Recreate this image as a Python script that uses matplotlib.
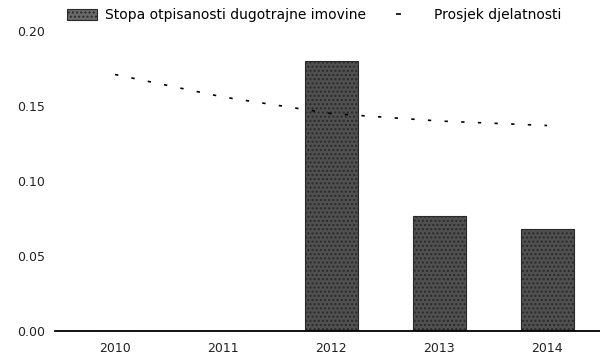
import numpy as np
import matplotlib
matplotlib.use('Agg')
import matplotlib.pyplot as plt
from matplotlib.patches import Patch
from matplotlib.lines import Line2D

plt.rcParams['font.family'] = ['DejaVu Sans']

years = ['2010', '2011', '2012', '2013', '2014']
otpisanost = [0.0, 0.0, 0.180, 0.077, 0.068]
prosjek = [0.171, 0.156, 0.145, 0.140, 0.137]
yticks = [0.00, 0.05, 0.10, 0.15, 0.20]

bar_label = 'Stopa otpisanosti dugotrajne imovine'
line_label = 'Prosjek djelatnosti'

fig = plt.figure(figsize=(6.0, 3.59), dpi=100)
ax = fig.add_axes([55 / 600, 28 / 359, 545 / 600, 300 / 359])

x = np.arange(len(years))
ax.bar(x, otpisanost, width=0.49, color='#505050', edgecolor='#2a2a2a',
       linewidth=0.8, hatch='....', zorder=2)
ax.plot(x, prosjek, color='black', linewidth=1.2, dashes=(2, 8), zorder=3)

ax.set_xlim(-0.556, 4.49)
ax.set_ylim(0, 0.20)
ax.set_xticks(x)
ax.set_xticklabels(years)
ax.set_yticks(yticks)
ax.set_yticklabels(['%.2f' % v for v in yticks])
ax.tick_params(axis='both', length=0, labelsize=9, colors='#222222')
ax.tick_params(axis='x', pad=8)
ax.tick_params(axis='y', pad=7)

for side in ['top', 'right', 'left']:
    ax.spines[side].set_visible(False)
ax.spines['bottom'].set_color('black')
ax.spines['bottom'].set_linewidth(1.3)

handles = [Patch(facecolor='#6a6a6a', edgecolor='#2a2a2a', hatch='....', linewidth=0.8),
           Line2D([0], [0], color='black', linewidth=1.2, dashes=(3, 40))]
fig.legend(handles, [bar_label, line_label], loc='center', ncol=2,
           bbox_to_anchor=(0.523, 0.958), frameon=False, fontsize=10,
           handlelength=2.16, handleheight=0.8, handletextpad=0.58,
           columnspacing=2.16)

fig.savefig('out.png', dpi=100)
